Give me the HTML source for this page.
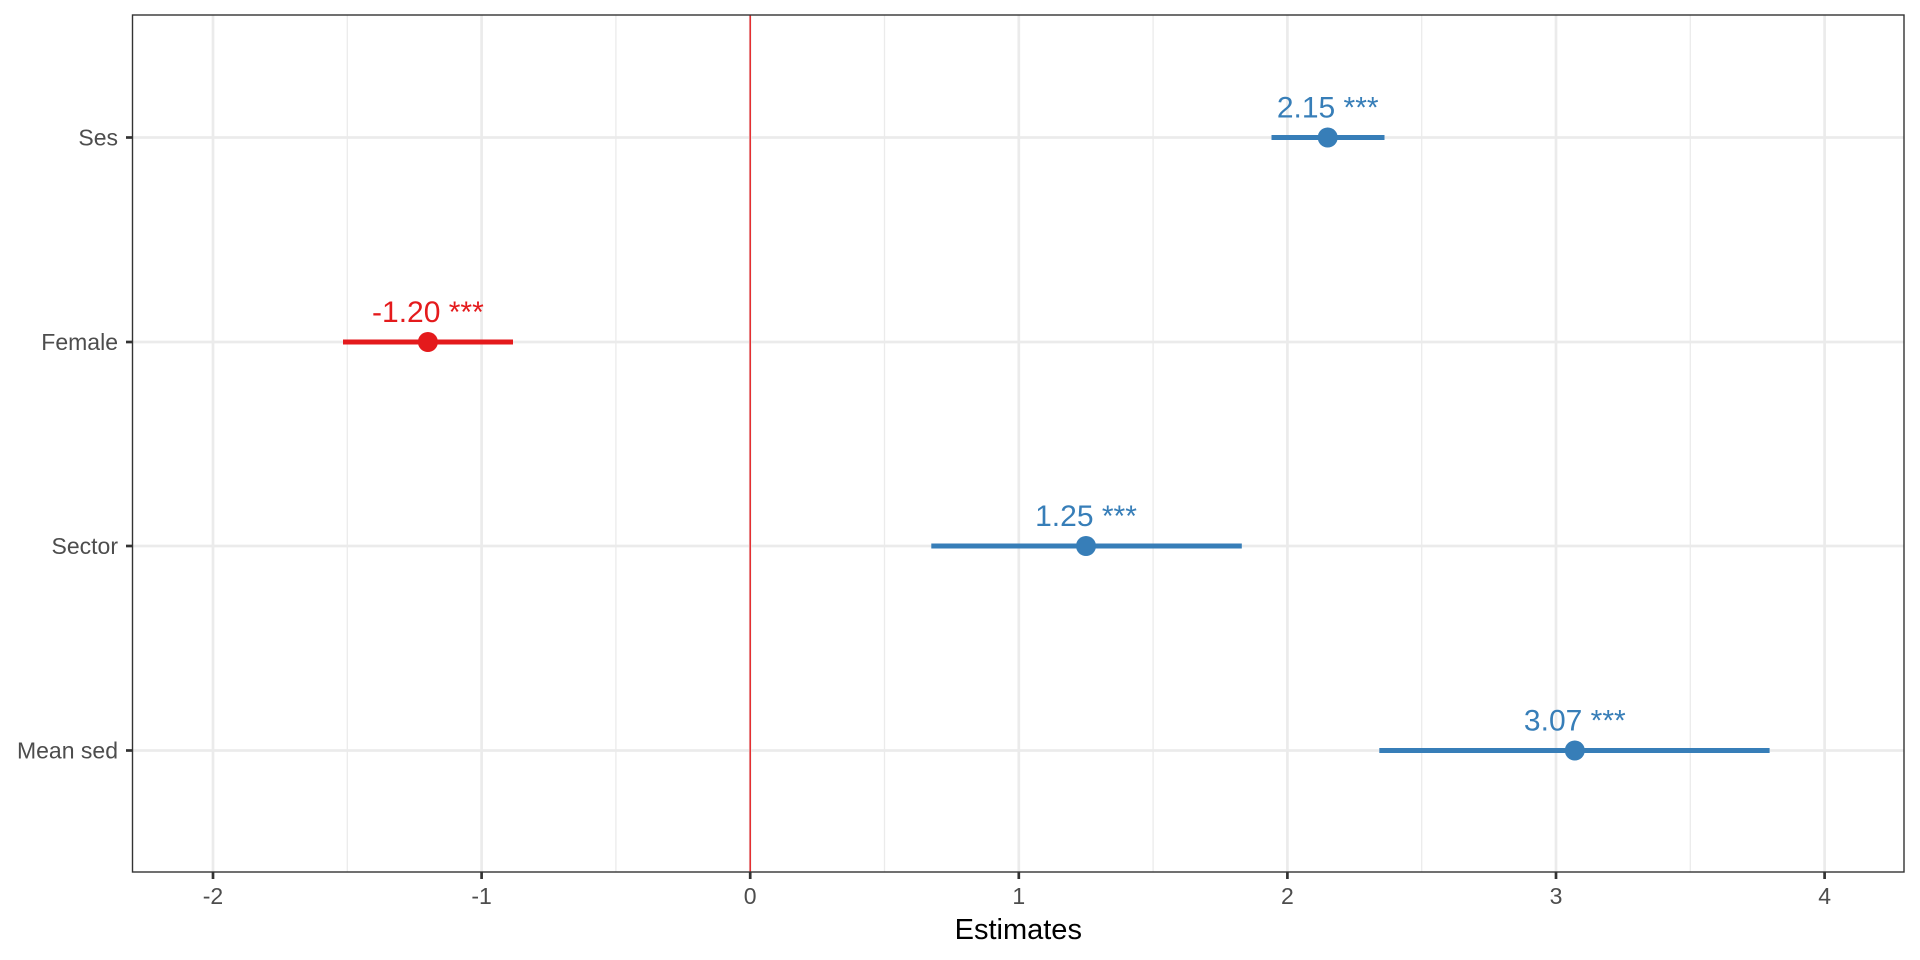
<!DOCTYPE html>
<html><head><meta charset="utf-8"><style>html,body{margin:0;padding:0;background:#fff}svg{display:block}</style></head>
<body>
<svg width="1920" height="960" xmlns="http://www.w3.org/2000/svg" font-family="Liberation Sans, sans-serif">
<rect width="1920" height="960" fill="#fff"/>
<g stroke="#EBEBEB" stroke-width="1.3">
<line x1="347.3" y1="15" x2="347.3" y2="872"/><line x1="615.9" y1="15" x2="615.9" y2="872"/><line x1="884.5" y1="15" x2="884.5" y2="872"/><line x1="1153.1" y1="15" x2="1153.1" y2="872"/><line x1="1421.7" y1="15" x2="1421.7" y2="872"/><line x1="1690.3" y1="15" x2="1690.3" y2="872"/>
</g>
<g stroke="#EBEBEB" stroke-width="2.7">
<line x1="213" y1="15" x2="213" y2="872"/><line x1="481.6" y1="15" x2="481.6" y2="872"/><line x1="750.2" y1="15" x2="750.2" y2="872"/><line x1="1018.8" y1="15" x2="1018.8" y2="872"/><line x1="1287.4" y1="15" x2="1287.4" y2="872"/><line x1="1556" y1="15" x2="1556" y2="872"/><line x1="1824.6" y1="15" x2="1824.6" y2="872"/>
<line x1="132.5" y1="137.5" x2="1904" y2="137.5"/><line x1="132.5" y1="342" x2="1904" y2="342"/><line x1="132.5" y1="546" x2="1904" y2="546"/><line x1="132.5" y1="750.5" x2="1904" y2="750.5"/>
</g>
<line x1="750.2" y1="15" x2="750.2" y2="872" stroke="#E41A1C" stroke-width="1.4"/>
<g stroke-width="5">
<line x1="1271.5" y1="137.5" x2="1384.5" y2="137.5" stroke="#377EB8"/>
<line x1="343" y1="342" x2="513" y2="342" stroke="#E41A1C"/>
<line x1="931.3" y1="546" x2="1241.8" y2="546" stroke="#377EB8"/>
<line x1="1379.3" y1="750.5" x2="1769.6" y2="750.5" stroke="#377EB8"/>
</g>
<circle cx="1327.7" cy="137.5" r="10" fill="#377EB8"/>
<circle cx="427.9" cy="342" r="10" fill="#E41A1C"/>
<circle cx="1086" cy="546" r="10" fill="#377EB8"/>
<circle cx="1574.8" cy="750.5" r="10" fill="#377EB8"/>
<g font-size="30" text-anchor="middle">
<text x="1327.7" y="117.5" fill="#377EB8">2.15 ***</text>
<text x="427.9" y="322" fill="#E41A1C">-1.20 ***</text>
<text x="1086" y="526" fill="#377EB8">1.25 ***</text>
<text x="1574.8" y="730.5" fill="#377EB8">3.07 ***</text>
</g>
<rect x="132.5" y="15" width="1771.5" height="857" fill="none" stroke="#333" stroke-width="1.4"/>
<g stroke="#333" stroke-width="2.7">
<line x1="126" y1="137.5" x2="132.5" y2="137.5"/><line x1="126" y1="342" x2="132.5" y2="342"/><line x1="126" y1="546" x2="132.5" y2="546"/><line x1="126" y1="750.5" x2="132.5" y2="750.5"/>
<line x1="213" y1="872" x2="213" y2="879"/><line x1="481.6" y1="872" x2="481.6" y2="879"/><line x1="750.2" y1="872" x2="750.2" y2="879"/><line x1="1018.8" y1="872" x2="1018.8" y2="879"/><line x1="1287.4" y1="872" x2="1287.4" y2="879"/><line x1="1556" y1="872" x2="1556" y2="879"/><line x1="1824.6" y1="872" x2="1824.6" y2="879"/>
</g>
<g font-size="23" fill="#4D4D4D" text-anchor="end">
<text x="118" y="145.5">Ses</text><text x="118" y="350">Female</text><text x="118" y="554">Sector</text><text x="118" y="758.5">Mean sed</text>
</g>
<g font-size="23" fill="#4D4D4D" text-anchor="middle">
<text x="213" y="904">-2</text><text x="481.6" y="904">-1</text><text x="750.2" y="904">0</text><text x="1018.8" y="904">1</text><text x="1287.4" y="904">2</text><text x="1556" y="904">3</text><text x="1824.6" y="904">4</text>
</g>
<text x="1018.3" y="939" font-size="29" text-anchor="middle" fill="#000">Estimates</text>
</svg>
</body></html>
